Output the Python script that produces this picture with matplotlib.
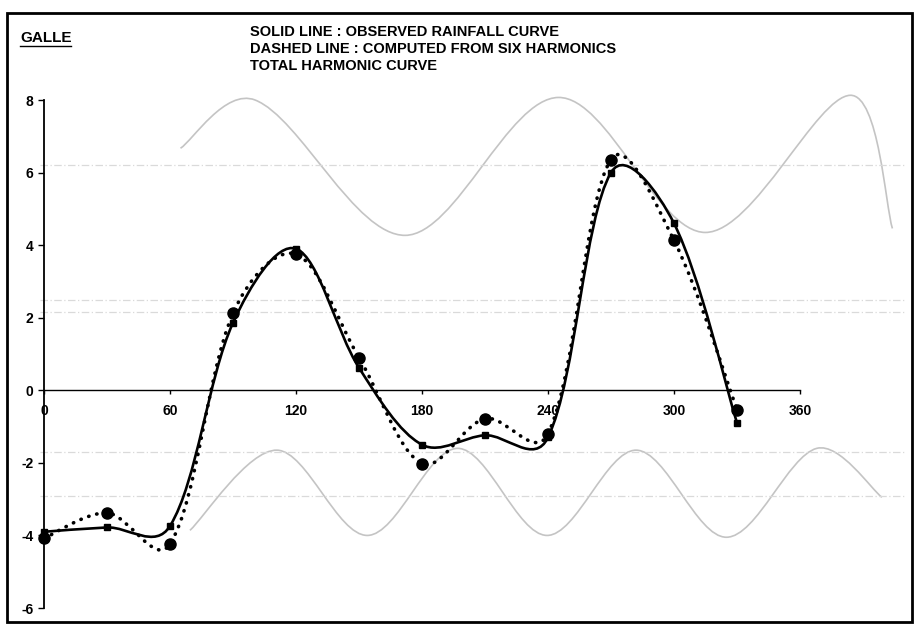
import numpy as np
import matplotlib
matplotlib.use('Agg')
import matplotlib.pyplot as plt
from matplotlib.path import Path
from matplotlib.patches import PathPatch, Rectangle
from matplotlib.lines import Line2D

plt.rcParams['font.family'] = ['Liberation Sans', 'DejaVu Sans']

# month positions in degrees (30 deg per month)
angles = [0, 30, 60, 90, 120, 150, 180, 210, 240, 270, 300, 330]
# solid line: observed rainfall curve
observed = [-3.9, -3.78, -3.74, 1.86, 3.9, 0.62, -1.5, -1.24, -1.3, 6.0, 4.6, -0.9]
# dotted line: computed from six harmonics
computed = [-4.08, -3.38, -4.24, 2.12, 3.75, 0.9, -2.02, -0.78, -1.2, 6.36, 4.13, -0.53]

xticks = [0, 60, 120, 180, 240, 300, 360]
yticks = [-6, -4, -2, 0, 2, 4, 6, 8]
title_lines = ['SOLID LINE : OBSERVED RAINFALL CURVE',
               'DASHED LINE : COMPUTED FROM SIX HARMONICS',
               'TOTAL HARMONIC CURVE']

# faint show-through from the back of the page
ghost_top_x = [65, 100.5, 172, 245, 315, 384, 404]
ghost_top_y = [6.67, 8.0, 4.27, 8.07, 4.35, 8.13, 4.46]
ghost_bot_x = [69.5, 111, 154, 197, 239.5, 282, 325, 368, 399]
ghost_bot_y = [-3.86, -1.65, -4.0, -1.6, -4.0, -1.65, -4.05, -1.6, -2.95]
ghost_hlines = [6.2, 2.48, 2.15, -1.7, -2.9]

W, H = 922, 629
AX_L, AX_R, AX_T, AX_B = 44, 800, 100, 608
XMIN, XMAX, YMIN, YMAX = 0, 360, -6, 8
SX = (AX_R - AX_L) / (XMAX - XMIN)   # px per degree
SY = (AX_B - AX_T) / (YMAX - YMIN)   # px per unit


# smoothed line like a spreadsheet chart: bezier through points,
# control arms shortened next to short segments (measured on screen)
def smooth_path(xs, ys):
    n = len(xs)
    P = np.array([[x * SX, y * SY] for x, y in zip(xs, ys)])
    arms_in, arms_out = [], []
    for i in range(n):
        a = max(i - 1, 0)
        b = min(i + 1, n - 1)
        T = P[b] - P[a]
        dp = np.sqrt(np.hypot(*(P[i] - P[a])))
        dn = np.sqrt(np.hypot(*(P[b] - P[i])))
        if i == 0 or i == n - 1:
            arms_in.append(T / 6)
            arms_out.append(T / 6)
        else:
            arms_in.append(T / 3 * dp / (dp + dn))
            arms_out.append(T / 3 * dn / (dp + dn))
    verts = [P[0]]
    codes = [Path.MOVETO]
    for i in range(n - 1):
        verts += [P[i] + arms_out[i], P[i + 1] - arms_in[i + 1], P[i + 1]]
        codes += [Path.CURVE4] * 3
    verts = [(v[0] / SX, v[1] / SY) for v in verts]
    return Path(verts, codes)


fig = plt.figure(figsize=(W / 100, H / 100), dpi=100)
ax = fig.add_axes([AX_L / W, 1 - AX_B / H, (AX_R - AX_L) / W, (AX_B - AX_T) / H])
ax.set_xlim(XMIN, XMAX)
ax.set_ylim(YMIN, YMAX)

# ghost curves
for gx, gy in [(ghost_top_x, ghost_top_y), (ghost_bot_x, ghost_bot_y)]:
    ax.add_patch(PathPatch(smooth_path(gx, gy), fill=False, edgecolor='#c4c4c4',
                           lw=1.2, clip_on=False, zorder=1))
for hy in ghost_hlines:
    ax.plot([-2, 410], [hy, hy], color='#dadada', lw=0.9, ls=(0, (6, 2, 1, 2)),
            clip_on=False, zorder=1)

# observed (solid) and computed (dotted)
ax.add_patch(PathPatch(smooth_path(angles, observed), fill=False, edgecolor='black',
                       lw=1.9, clip_on=False, zorder=4))
ax.add_patch(PathPatch(smooth_path(angles, computed), fill=False, edgecolor='black',
                       lw=2.6, ls=(0, (0.1, 2.2)), capstyle='round',
                       clip_on=False, zorder=3))
ax.plot(angles, observed, ls='none', marker='s', ms=4.5, color='black', zorder=5,
        clip_on=False)
ax.plot(angles, computed, ls='none', marker='o', ms=8, color='black', zorder=5,
        clip_on=False)

# axes look
for s in ['top', 'right']:
    ax.spines[s].set_visible(False)
ax.spines['bottom'].set_position(('data', 0))
ax.spines['bottom'].set_linewidth(1.0)
ax.spines['left'].set_linewidth(1.3)
ax.set_xticks(xticks)
ax.set_xticklabels([str(v) for v in xticks], fontsize=10, fontweight='bold')
ax.set_yticks(yticks)
ax.set_yticklabels([str(v) for v in yticks], fontsize=10, fontweight='bold')
ax.tick_params(axis='x', direction='out', length=3, width=1, pad=7)
ax.tick_params(axis='y', direction='out', length=4, width=1, pad=3.5)
ax.patch.set_visible(False)

# titles
for i, line in enumerate(title_lines):
    fig.text(250 / W, 1 - (32 + 17 * i) / H, line, fontsize=10.5, fontweight='bold',
             va='center', ha='left')
galle = fig.text(20 / W, 1 - 38 / H, 'GALLE', fontsize=11, fontweight='bold',
                 va='center', ha='left')
fig.canvas.draw()
bb = galle.get_window_extent().transformed(fig.transFigure.inverted())
fig.add_artist(Line2D([bb.x0, bb.x1], [bb.y0 - 1.5 / H, bb.y0 - 1.5 / H],
                      color='black', lw=1.0, transform=fig.transFigure))

# page frame
fig.add_artist(Rectangle((7 / W, 1 - 622 / H), (912 - 7) / W, (622 - 13) / H,
                         transform=fig.transFigure, fill=False, edgecolor='black',
                         lw=2.0))

fig.savefig('out.png', dpi=100)
